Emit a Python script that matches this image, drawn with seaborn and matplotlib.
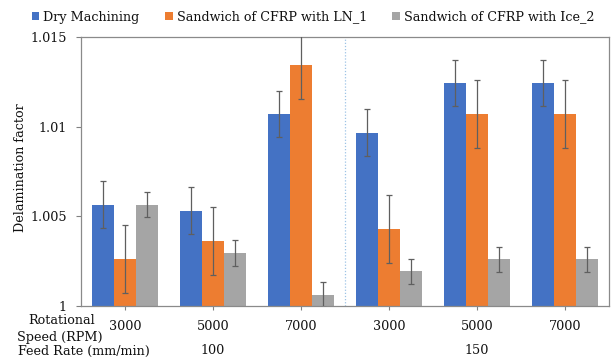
import matplotlib
matplotlib.use("Agg")
import matplotlib.pyplot as plt
import matplotlib.transforms as mtransforms
from matplotlib.patches import Patch
import seaborn as sns
import pandas as pd

# ---- data ----
speeds = ["3000", "5000", "7000", "3000", "5000", "7000"]
feed_rates = ["100", "150"]
series = ["Dry Machining", "Sandwich of CFRP with LN_1", "Sandwich of CFRP with Ice_2"]
dry = [1.00566, 1.00533, 1.01073, 1.00968, 1.01244, 1.01244]
ln = [1.00262, 1.00363, 1.01348, 1.00430, 1.01073, 1.01073]
ice = [1.00566, 1.00296, 1.00062, 1.00194, 1.00262, 1.00262]
dry_err = [0.0013, 0.0013, 0.0013, 0.0013, 0.0013, 0.0013]
ln_err = [0.0019, 0.0019, 0.0019, 0.0019, 0.0019, 0.0019]
ice_err = [0.0007, 0.0007, 0.0007, 0.0007, 0.0007, 0.0007]
y_ticks = [1.0, 1.005, 1.01, 1.015]
y_tick_labels = ["1", "1.005", "1.01", "1.015"]

colors = ["#4472C4", "#ED7D31", "#A5A5A5"]

groups = [f"{feed_rates[i // 3]}-{s}-{i}" for i, s in enumerate(speeds)]
rows = []
for name, vals in zip(series, [dry, ln, ice]):
    for g, v in zip(groups, vals):
        rows.append({"group": g, "series": name, "value": v})
df = pd.DataFrame(rows)
errs = [dry_err, ln_err, ice_err]

sns.set_theme(style="white")
plt.rcParams["font.family"] = ["DejaVu Serif"]
plt.rcParams["font.size"] = 9

FS = 9.2
TC = "#111111"

fig = plt.figure(figsize=(6.11, 3.61), dpi=100)
W, H = 611, 361
ax = fig.add_axes([81 / W, 1 - 306 / H, (609 - 81) / W, (306 - 37.3) / H])

sns.barplot(data=df, x="group", y="value", hue="series", order=groups,
            hue_order=series, palette=colors, saturation=1, width=0.75,
            errorbar=None, legend=False, linewidth=0, ax=ax)

for cont, e in zip(ax.containers, errs):
    xs = [p.get_x() + p.get_width() / 2 for p in cont]
    ys = [p.get_height() for p in cont]
    ax.errorbar(xs, ys, yerr=e, fmt="none", ecolor="#5f5f5f",
                elinewidth=0.9, capsize=2, capthick=0.9, zorder=5)

ax.set_ylim(1.0, 1.015)
ax.set_xlim(-0.5, 5.5)
ax.set_yticks(y_ticks)
ax.set_yticklabels(y_tick_labels)
ax.set_xticks(range(len(speeds)))
ax.set_xticklabels(speeds)
ax.set_xlabel("")
ax.set_ylabel("")
ax.tick_params(axis="y", left=True, length=3.6, width=0.8, color="#808080",
               pad=6.5, labelsize=FS, labelcolor=TC)
ax.tick_params(axis="x", bottom=True, length=3, width=0.8, color="#808080",
               pad=7, labelsize=FS, labelcolor=TC)
for sp in ax.spines.values():
    sp.set_visible(True)
    sp.set_color("#8a8a8a")
    sp.set_linewidth(0.9)

ax.axvline(2.5, color="#9dc3e6", linestyle=(0, (1, 1.5)), linewidth=0.9, zorder=0)

# feed-rate labels
trans = mtransforms.blended_transform_factory(ax.transData, ax.transAxes)
ax.text(1, (306 - 350) / (306 - 37.3), feed_rates[0], transform=trans,
        ha="center", va="center", fontsize=FS, color=TC)
ax.text(4, (306 - 350) / (306 - 37.3), feed_rates[1], transform=trans,
        ha="center", va="center", fontsize=FS, color=TC)

# row headers
fig.text(62 / W, 1 - 320 / H, "Rotational", ha="center", va="center",
         fontsize=FS, color=TC)
fig.text(60 / W, 1 - 337 / H, "Speed (RPM)", ha="center", va="center",
         fontsize=FS, color=TC)
fig.text(84 / W, 1 - 351.5 / H, "Feed Rate (mm/min)", ha="center", va="center",
         fontsize=FS, color=TC)

fig.text(21 / W, 1 - 168 / H, "Delamination factor", rotation=90,
         ha="center", va="center", fontsize=FS, color=TC)

handles = [Patch(facecolor=c, edgecolor="none") for c in colors]
fig.legend(handles, series, loc="center", bbox_to_anchor=(313 / W, 1 - 17 / H),
           ncol=3, frameon=False, fontsize=FS, handlelength=0.6,
           handleheight=0.6, handletextpad=0.3, columnspacing=2.0,
           labelcolor=TC)

fig.savefig("out.png", dpi=100)
